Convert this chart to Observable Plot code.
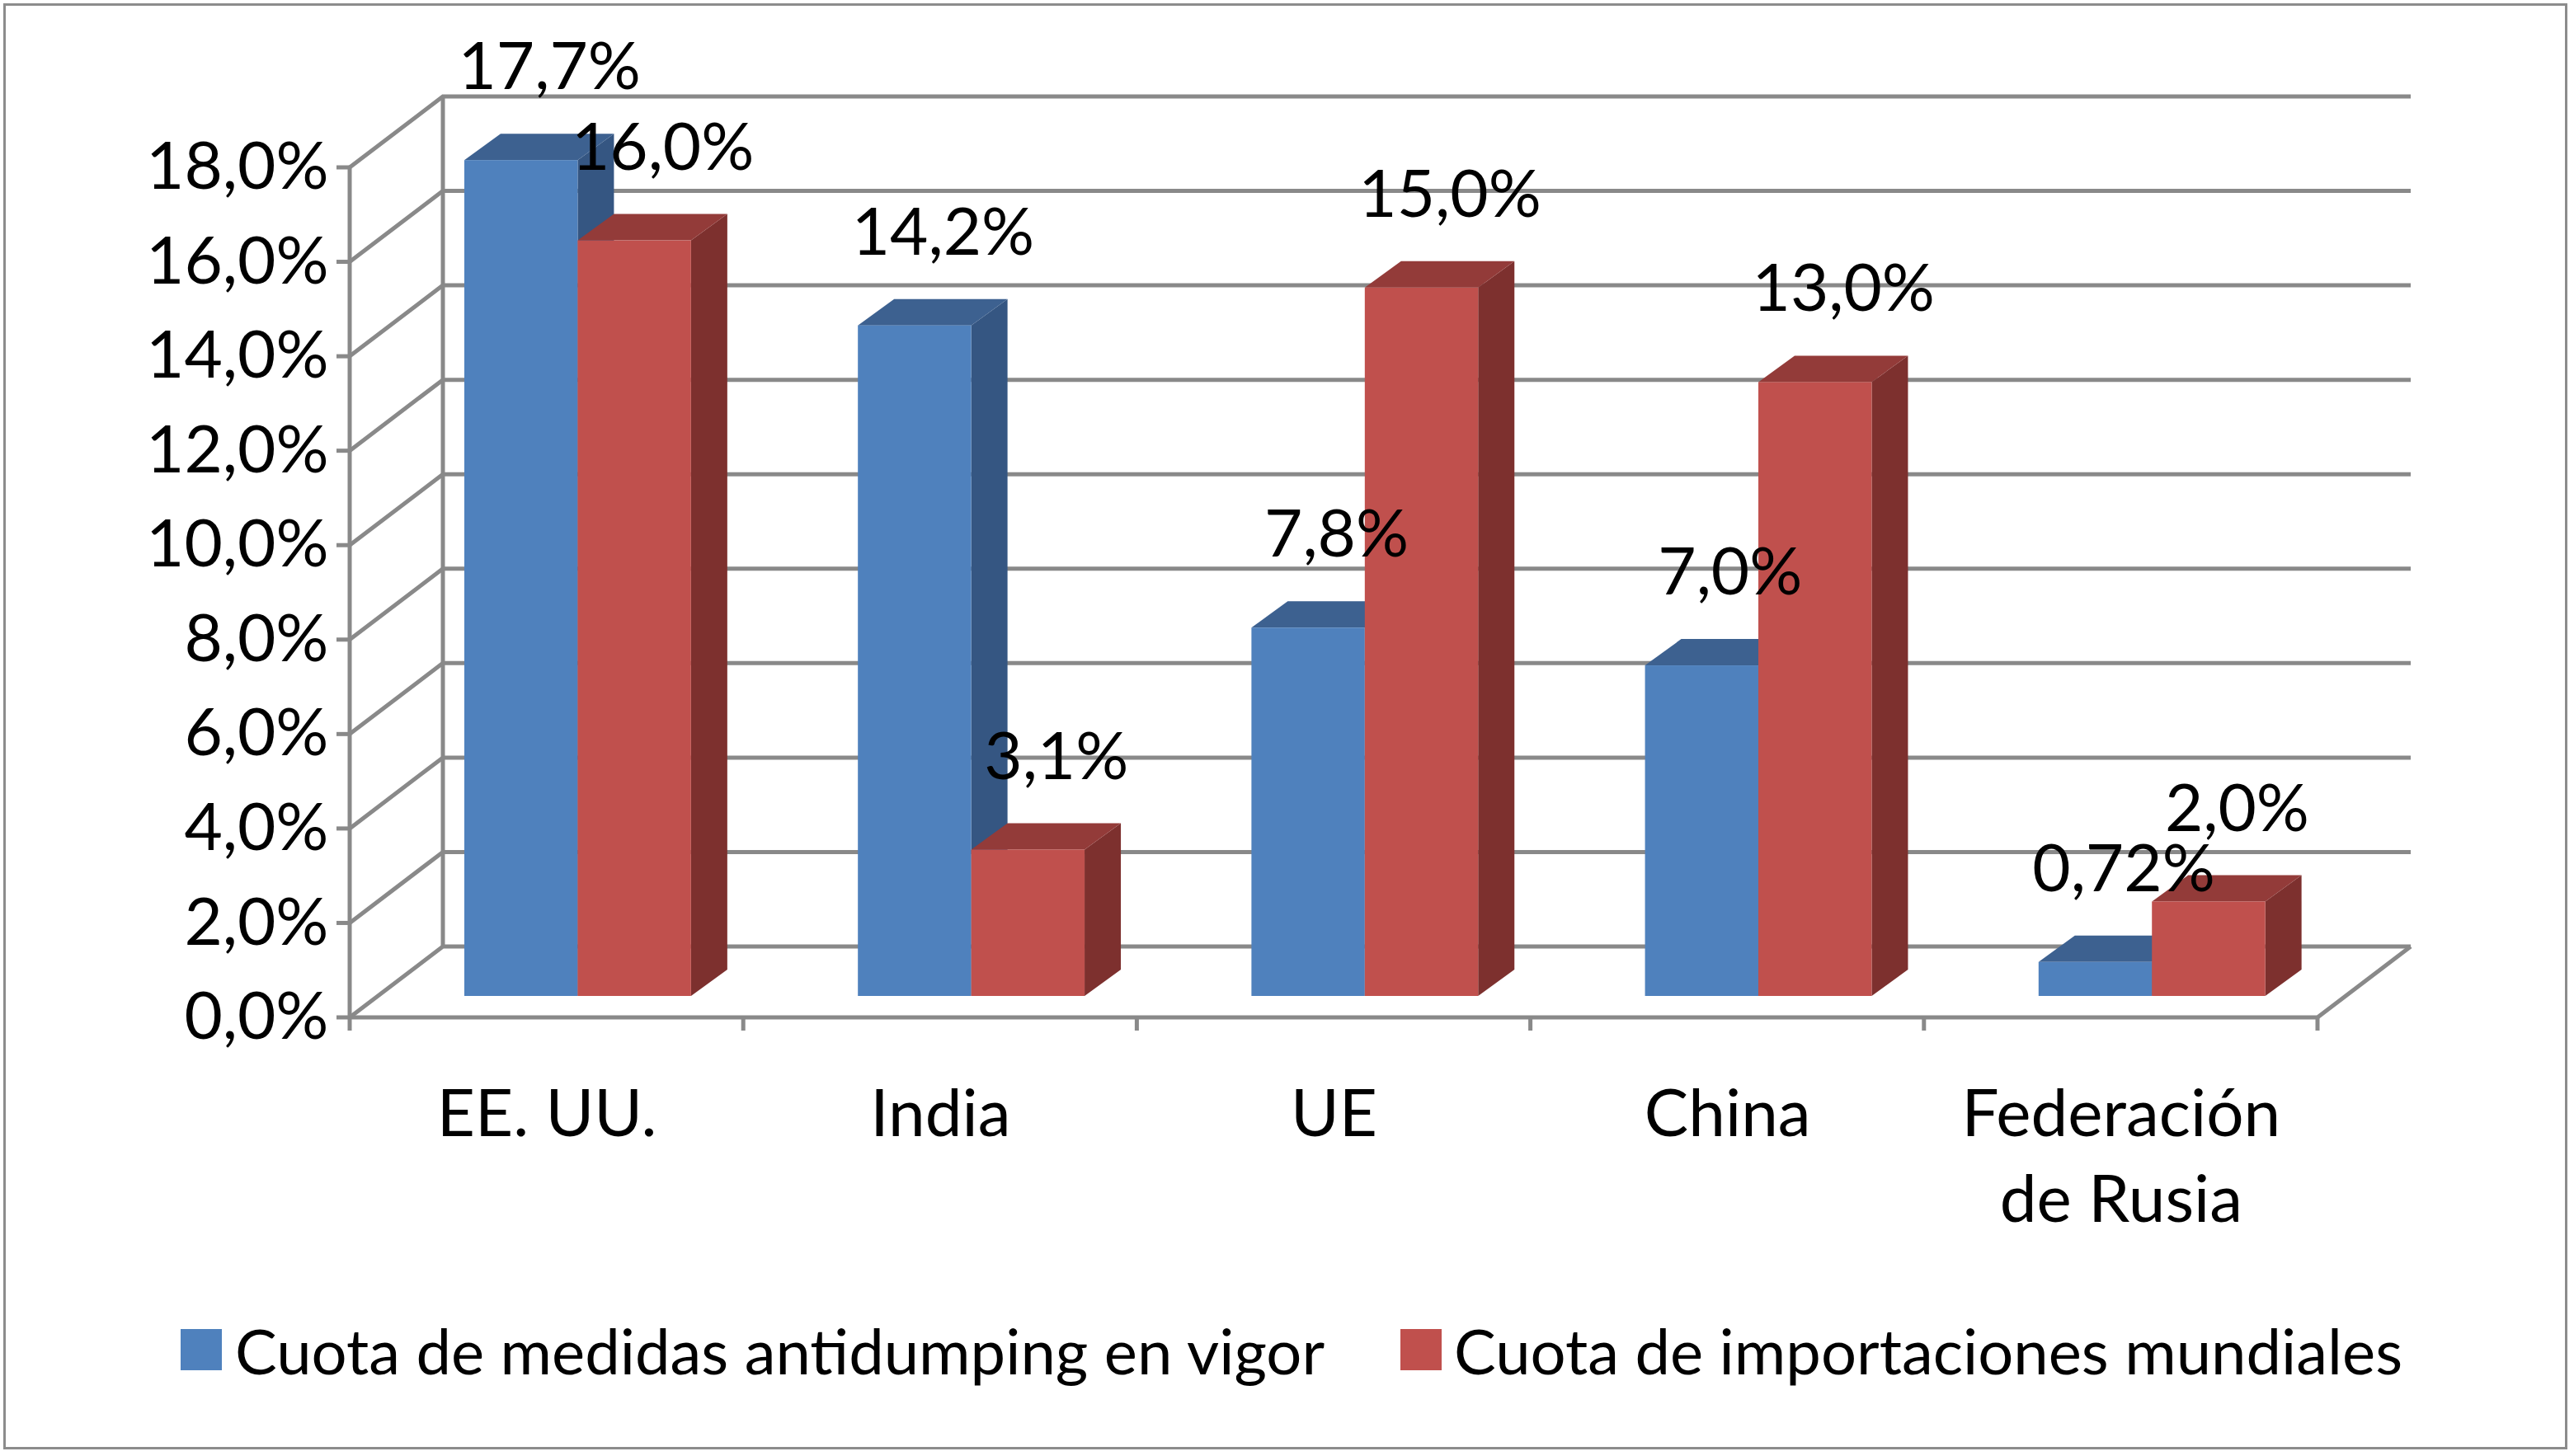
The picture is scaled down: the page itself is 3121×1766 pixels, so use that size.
<!DOCTYPE html>
<html><head><meta charset="utf-8">
<script src="https://cdn.jsdelivr.net/npm/d3@7"></script>
<script src="https://cdn.jsdelivr.net/npm/@observablehq/plot@0.6"></script>
<style>
body{margin:0;background:#fff;font-family:Lato,"Open Sans",sans-serif;}
#frame{position:absolute;left:4px;top:4px;width:3109px;height:1754px;border:3px solid #8c8c8c;box-sizing:border-box;}
#chart{position:absolute;left:0;top:0;}
.leg{position:absolute;top:1598px;font-size:76px;color:#000;white-space:nowrap;line-height:80px;}
.sw{position:absolute;width:50px;height:50px;top:1612px;}
</style></head><body>
<div id="frame"></div>
<div id="chart"></div>
<div class="sw" style="left:219px;background:#4F81BD"></div>
<div class="leg" style="left:285px">Cuota de medidas antidumping en vigor</div>
<div class="sw" style="left:1698px;background:#C0504D"></div>
<div class="leg" style="left:1763px">Cuota de importaciones mundiales</div>
<script>
const categories = ["EE. UU.", "India", "UE", "China", "Federación\nde Rusia"];
const antidumping = [17.7, 14.2, 7.8, 7.0, 0.72];
const importaciones = [16.0, 3.1, 15.0, 13.0, 2.0];
const antidumpingLabels = ["17,7%", "14,2%", "7,8%", "7,0%", "0,72%"];
const importLabels = ["16,0%", "3,1%", "15,0%", "13,0%", "2,0%"];
const yTicks = [0, 2, 4, 6, 8, 10, 12, 14, 16, 18];

const series = [
  {name: "antidumping", off: 0, front: "#4F81BD", top: "#3D6190", side: "#355682"},
  {name: "importaciones", off: 1, front: "#C0504D", top: "#933B39", side: "#7D302E"}
];
const bars = [];
categories.forEach((c, i) => {
  bars.push({i, s: series[0], v: antidumping[i], label: antidumpingLabels[i]});
  bars.push({i, s: series[1], v: importaciones[i], label: importLabels[i]});
});
const BW = 0.288;
const B0 = 0.22;
bars.forEach(b => { b.x1 = b.i + B0 + b.s.off * BW; b.x2 = b.x1 + BW; });

const DX = 113, DY = -86;
const SX = 34, SY = -26;
const PX = 44, PY = -32;
const GRID = "#898989";

function wallMark(index, {x, y}) {
  const g = d3.create("svg:g").attr("fill", "none").attr("stroke", GRID).attr("stroke-width", 5);
  const x0 = x(0), x5 = x(5);
  for (const v of yTicks) {
    const yy = y(v);
    g.append("path").attr("d", `M${x0},${yy}L${x0 + DX},${yy + DY}L${x5 + DX},${yy + DY}`);
    g.append("path").attr("d", `M${x0 - 16},${yy}L${x0},${yy}`);
  }
  g.append("path").attr("d", `M${x0},${y(0)}L${x0},${y(18)}`);
  g.append("path").attr("d", `M${x0 + DX},${y(0) + DY}L${x0 + DX},${y(18) + DY}`);
  g.append("path").attr("d", `M${x0},${y(0)}L${x5},${y(0)}L${x5 + DX},${y(0) + DY}`);
  for (let k = 0; k <= 5; k++) g.append("path").attr("d", `M${x(k)},${y(0)}L${x(k)},${y(0) + 16}`);
  return g.node();
}

function barsMark(index, {x, y}) {
  const g = d3.create("svg:g").attr("stroke", "none");
  for (const b of bars) {
    const l = x(b.x1) + SX, r = x(b.x2) + SX, t = y(b.v) + SY, bt = y(0) + SY;
    g.append("path").attr("fill", b.s.side)
      .attr("d", `M${r},${bt}L${r},${t}L${r + PX},${t + PY}L${r + PX},${bt + PY}Z`);
    g.append("path").attr("fill", b.s.top)
      .attr("d", `M${l},${t}L${l + PX},${t + PY}L${r + PX},${t + PY}L${r},${t}Z`);
    g.append("rect").attr("fill", b.s.front).attr("x", l).attr("y", t).attr("width", r - l).attr("height", bt - t);
  }
  return g.node();
}

const catData = categories.map((c, i) => ({c, i}));
const plot = Plot.plot({
  width: 3121, height: 1560,
  marginLeft: 424, marginRight: 311, marginTop: 203, marginBottom: 326,
  x: {domain: [0, 5], axis: null},
  y: {domain: [0, 18], axis: null},
  style: {fontFamily: "Lato, 'Open Sans', sans-serif", background: "transparent", overflow: "visible"},
  marks: [
    wallMark,
    barsMark,
    Plot.text(yTicks, {x: () => 0, y: d => d, text: d => d.toFixed(1).replace(".", ",") + "%",
      textAnchor: "end", dx: -26, fontSize: 80, fill: "#000"}),
    Plot.text(catData, {x: d => d.i + 0.5, y: () => 0, text: "c", dy: 70, fontSize: 80, fill: "#000",
      lineHeight: 1.3, lineAnchor: "top"}),
    Plot.text(bars, {x: d => (d.x1 + d.x2) / 2, y: "v", text: "label", dx: SX + 34, dy: SY - 112,
      fontSize: 80, fill: "#000"})
  ]
});
document.getElementById("chart").appendChild(plot);
</script>
</body></html>
